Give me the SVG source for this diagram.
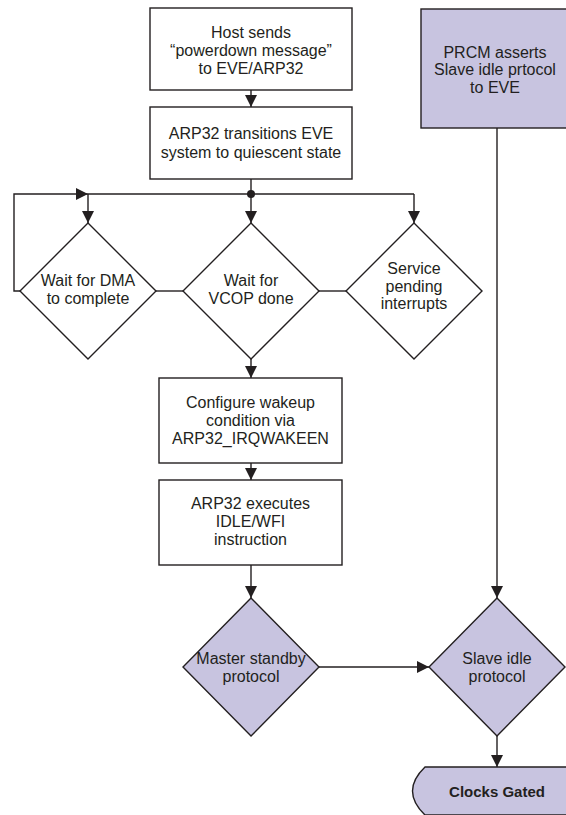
<svg xmlns="http://www.w3.org/2000/svg" width="566" height="815" viewBox="0 0 566 815">
<style>
.box{fill:#ffffff;stroke:#231f20;stroke-width:1.4}
.pur{fill:#c8c4e0;stroke:#231f20;stroke-width:1.4}
.t{font-family:"Liberation Sans",Arial,sans-serif;font-size:16px;fill:#231f20;text-anchor:middle}
.b{font-family:"Liberation Sans",Arial,sans-serif;font-size:15px;font-weight:bold;fill:#231f20;text-anchor:middle}
.c{fill:none;stroke:#231f20;stroke-width:1.4}
</style>
<defs>
<marker id="ah" viewBox="0 0 12 12" refX="12" refY="6" markerWidth="12" markerHeight="12" markerUnits="userSpaceOnUse" orient="auto">
<path d="M0,0 L12,6 L0,12 z" fill="#231f20"/>
</marker>
</defs>
<rect width="566" height="815" fill="#ffffff"/>
<g id="n1"><rect class="box" x="150" y="8" width="202" height="82"/>
<text class="t" x="251" y="37.5">Host sends</text><text class="t" x="251" y="55.5">“powerdown message”</text><text class="t" x="251" y="73.5">to EVE/ARP32</text></g>
<g id="n2"><rect class="box" x="150" y="107" width="202" height="72"/>
<text class="t" x="251" y="138.5">ARP32 transitions EVE</text><text class="t" x="251" y="157.5">system to quiescent state</text></g>
<g id="d1"><polygon class="box" points="88,223 156,291 88,359 20,291"/>
<text class="t" x="88" y="285.5">Wait for DMA</text><text class="t" x="88" y="303.5">to complete</text></g>
<g id="d2"><polygon class="box" points="251,223 319,291 251,359 183,291"/>
<text class="t" x="251" y="285.5">Wait for</text><text class="t" x="251" y="303.5">VCOP done</text></g>
<g id="d3"><polygon class="box" points="414,223 482,291 414,359 346,291"/>
<text class="t" x="414" y="273.5">Service</text><text class="t" x="414" y="291.5">pending</text><text class="t" x="414" y="309">interrupts</text></g>
<g id="n3"><rect class="box" x="159" y="378" width="183" height="85"/>
<text class="t" x="250.5" y="407.5">Configure wakeup</text><text class="t" x="250.5" y="425.5">condition via</text><text class="t" x="250.5" y="443.5">ARP32_IRQWAKEEN</text></g>
<g id="n4"><rect class="box" x="159" y="480" width="183" height="85"/>
<text class="t" x="250.5" y="508.5">ARP32 executes</text><text class="t" x="250.5" y="527">IDLE/WFI</text><text class="t" x="250.5" y="544.5">instruction</text></g>
<g id="m"><polygon class="pur" points="251,598 319,667 251,736 183,667"/>
<text class="t" x="251" y="663.5">Master standby</text><text class="t" x="251" y="681.5">protocol</text></g>
<g id="p"><rect class="pur" x="421" y="9" width="150" height="119"/>
<text class="t" x="495" y="57.5">PRCM asserts</text><text class="t" x="495" y="74.5">Slave idle prtocol</text><text class="t" x="495" y="92.5">to EVE</text></g>
<g id="s"><polygon class="pur" points="497,598 565,667 497,736 429,667"/>
<text class="t" x="497" y="663.5">Slave idle</text><text class="t" x="497" y="681.5">protocol</text></g>
<g id="cg"><path class="pur" d="M572,767 L425,767 Q400,791 425,815 L572,815"/>
<text class="b" x="497" y="797">Clocks Gated</text></g>
<g id="connectors">
<path class="c" d="M251,90 V107" marker-end="url(#ah)"/>
<path class="c" d="M251,179 V194"/>
<path class="c" d="M88,194 H414"/>
<circle cx="251" cy="194" r="4" fill="#231f20"/>
<path class="c" d="M88,194 V223" marker-end="url(#ah)"/>
<path class="c" d="M251,194 V223" marker-end="url(#ah)"/>
<path class="c" d="M414,194 V223" marker-end="url(#ah)"/>
<path class="c" d="M20,291 H14 V194 H88" marker-end="url(#ah)"/>
<path class="c" d="M156,291 H183"/>
<path class="c" d="M319,291 H346"/>
<path class="c" d="M251,359 V378" marker-end="url(#ah)"/>
<path class="c" d="M251,463 V480" marker-end="url(#ah)"/>
<path class="c" d="M251,565 V598" marker-end="url(#ah)"/>
<path class="c" d="M319,667 H429" marker-end="url(#ah)"/>
<path class="c" d="M497,128 V598" marker-end="url(#ah)"/>
<path class="c" d="M497,736 V767" marker-end="url(#ah)"/>
</g>
</svg>
